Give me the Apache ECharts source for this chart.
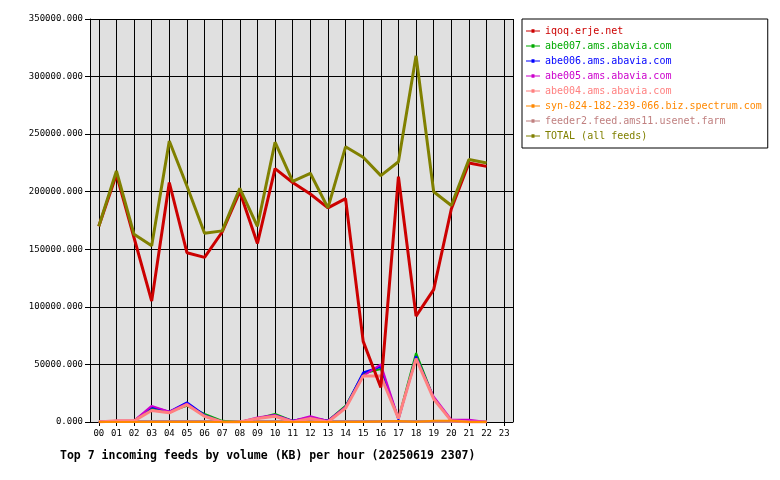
<!DOCTYPE html>
<html>
<head>
<meta charset="utf-8">
<script src="https://cdn.jsdelivr.net/npm/echarts@6/dist/echarts.min.js"></script>
<style>body{margin:0;background:#fff}#c{width:780px;height:480px}</style>
</head>
<body>
<div id="c"></div>
<script>
var hours = [...Array(23).keys()];
var iqoq = [170000,215000,160000,105000,208000,147000,143000,165000,200000,155000,220000,208000,198000,186000,194000,70000,30000,213000,92000,115000,185000,225000,222000];
var abe007 = [0,0,1000,12000,9000,14000,7000,1000,0,3000,7000,1000,4000,1000,14000,42000,46000,3000,60000,21000,1000,0,0];
var abe006 = [0,0,1000,13000,9000,17000,6000,0,0,3000,6000,1000,4000,1000,13000,43000,48000,2000,57000,21000,1000,0,0];
var abe005 = [0,1000,1000,14000,9000,16000,5000,0,0,4000,6000,1000,5000,1000,13000,40000,50000,3000,55000,22000,2000,2000,0];
var abe004 = [0,1000,1000,10000,8000,15000,5000,0,0,3000,5000,0,3000,0,12000,40000,40000,3000,55000,20000,1000,0,0];
var syn = [0,0,0,0,0,0,0,0,0,0,0,0,0,0,0,0,500,800,0,1000,1000,0,0];
var feeder2 = [500,500,500,500,500,500,500,500,500,500,500,500,500,500,500,500,500,500,500,500,500,500,500];
var total = [170000,218000,163000,153000,244000,205000,164000,166000,203000,170000,243000,209000,216000,186000,239000,230000,214000,226000,318000,200000,188000,228000,225000];

var names = ['iqoq.erje.net','abe007.ams.abavia.com','abe006.ams.abavia.com','abe005.ams.abavia.com','abe004.ams.abavia.com','syn-024-182-239-066.biz.spectrum.com','feeder2.feed.ams11.usenet.farm','TOTAL (all feeds)'];
var colors = ['#cc0000','#00aa00','#0000ff','#cc00cc','#ff8080','#ff8800','#c08080','#808000'];
var widths = [3,2,2,2,3,2,3,3];
var zs = [8,2,3,4,5,6,1,9];
var datas = [iqoq,abe007,abe006,abe005,abe004,syn,feeder2,total];
var font = 'DejaVu Sans Mono';

var chart = echarts.init(document.getElementById('c'));
chart.setOption({
  animation: false,
  textStyle: { fontFamily: font },
  title: {
    text: 'Top 7 incoming feeds by volume (KB) per hour (20250619 2307)',
    left: 55, top: 445,
    textStyle: { fontFamily: font, fontSize: 11.5, fontWeight: 'bold', color: '#000' }
  },
  legend: {
    orient: 'vertical', left: 522, top: 19,
    padding: [7, 6, 7, 4], itemGap: 5,
    borderColor: '#000', borderWidth: 1,
    itemWidth: 14, itemHeight: 10,
    icon: 'path://M0,4.5h14v1.2h-14zM5.5,3.3h3v3.6h-3z',
    data: names.map(function (n, i) {
      return { name: n, textStyle: { color: colors[i] } };
    }),
    textStyle: { fontFamily: font, fontSize: 10 }
  },
  grid: [
    { left: 90, top: 19, width: 423, height: 403 },
    { left: 98.8, top: 19, width: 414.2, height: 403 }
  ],
  xAxis: [{
    gridIndex: 0, type: 'value', min: 0, max: 1,
    axisLine: { lineStyle: { color: '#000' } },
    axisTick: { show: false }, axisLabel: { show: false }, splitLine: { show: false }
  }, {
    gridIndex: 1, type: 'value', min: 0, max: 23.5, interval: 1,
    axisLine: { show: false },
    axisTick: { show: true, length: 4, lineStyle: { color: '#000' } },
    splitLine: { lineStyle: { color: '#000' } },
    axisLabel: {
      color: '#000', fontFamily: font, fontSize: 9, margin: 7,
      showMaxLabel: false,
      formatter: function (v) { return v % 1 === 0 ? (v < 10 ? '0' : '') + v : ''; }
    }
  }],
  yAxis: [{
    gridIndex: 0, type: 'value', min: 0, max: 350000, interval: 50000,
    axisLine: { show: true, lineStyle: { color: '#000' } },
    axisTick: { show: true, length: 5, lineStyle: { color: '#000' } },
    splitLine: { lineStyle: { color: '#000' } },
    splitArea: { show: true, areaStyle: { color: ['#e0e0e0', '#e0e0e0'] } },
    axisLabel: { color: '#000', fontFamily: font, fontSize: 9, margin: 7, formatter: function (v) { return v.toFixed(3); } }
  }, {
    gridIndex: 1, type: 'value', min: 0, max: 350000, interval: 50000, show: false
  }],
  series: datas.map(function (d, i) {
    return {
      name: names[i], type: 'line', z: zs[i], xAxisIndex: 1, yAxisIndex: 1,
      data: d.map(function (v, h) { return [hours[h], v]; }),
      showSymbol: false, color: colors[i],
      lineStyle: { width: widths[i], color: colors[i] }
    };
  })
});
</script>
</body>
</html>
